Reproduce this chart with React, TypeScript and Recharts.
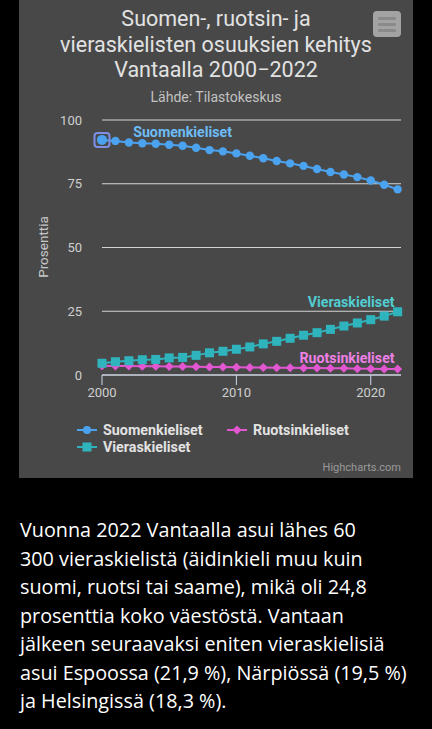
import React from 'react';
import { LineChart, Line, XAxis, YAxis, CartesianGrid, LabelList } from 'recharts';

const years = [2000, 2001, 2002, 2003, 2004, 2005, 2006, 2007, 2008, 2009, 2010, 2011, 2012, 2013, 2014, 2015, 2016, 2017, 2018, 2019, 2020, 2021, 2022];
const suomenkieliset = [92.2, 91.8, 91.2, 90.9, 90.7, 90.3, 89.9, 89.1, 88.2, 87.7, 86.9, 86.0, 85.0, 83.9, 83.0, 82.0, 80.8, 79.6, 78.6, 77.6, 76.3, 74.6, 72.8];
const ruotsinkieliset = [3.6, 3.5, 3.5, 3.4, 3.4, 3.3, 3.3, 3.2, 3.1, 3.1, 3.0, 2.9, 2.9, 2.8, 2.8, 2.7, 2.7, 2.6, 2.6, 2.5, 2.5, 2.4, 2.4];
const vieraskieliset = [4.6, 5.2, 5.6, 6.0, 6.1, 6.7, 6.9, 7.7, 8.7, 9.3, 10.1, 11.0, 12.2, 13.2, 14.4, 15.6, 16.6, 17.9, 19.2, 20.4, 21.7, 23.1, 24.8];
const yTicks = [0, 25, 50, 75, 100];
const xTicks = [2000, 2010, 2020];

const titleLines = ['Suomen-, ruotsin- ja', 'vieraskielisten osuuksien kehitys', 'Vantaalla 2000\u22122022'];
const subtitle = 'Lähde: Tilastokeskus';
const paragraphLines = [
  'Vuonna 2022 Vantaalla asui lähes 60',
  '300 vieraskielistä (äidinkieli muu kuin',
  'suomi, ruotsi tai saame), mikä oli 24,8',
  'prosenttia koko väestöstä. Vantaan',
  'jälkeen seuraavaksi eniten vieraskielisiä',
  'asui Espoossa (21,9 %), Närpiössä (19,5 %)',
  'ja Helsingissä (18,3 %).',
];

const data = years.map((y, i) => ({
  year: y,
  suomi: suomenkieliset[i],
  ruotsi: ruotsinkieliset[i],
  vieras: vieraskieliset[i],
}));

const BLUE = '#4ba3f0';
const PINK = '#e356d2';
const TEAL = '#2fb4bd';
const FONT = 'Roboto, "Noto Sans", sans-serif';

const blueDot = (p: any) => {
  const { cx, cy, index } = p;
  if (index === 0) {
    return (
      <g key={`b${index}`}>
        <rect x={cx - 7.5} y={cy - 7} width={15} height={14} rx={3} fill="none" stroke="#7f8fe6" strokeWidth={2} />
        <circle cx={cx} cy={cy} r={5} fill={BLUE} />
      </g>
    );
  }
  return <circle key={`b${index}`} cx={cx} cy={cy} r={4.2} fill={BLUE} />;
};

const tealDot = (p: any) => {
  const { cx, cy, index } = p;
  return <rect key={`t${index}`} x={cx - 4.5} y={cy - 4.5} width={9} height={9} fill={TEAL} />;
};

const pinkDot = (p: any) => {
  const { cx, cy, index } = p;
  return <path key={`p${index}`} d={`M${cx},${cy - 4.5}L${cx + 4.5},${cy}L${cx},${cy + 4.5}L${cx - 4.5},${cy}Z`} fill={PINK} />;
};

const seriesLabel = (text: string, idx: number, dx: number, dy: number, anchor: string, color: string) => (p: any) => {
  if (p.index !== idx) return null;
  return (
    <text x={p.x + dx} y={p.y + dy} textAnchor={anchor} dominantBaseline="central" fill={color} fontSize={14.2} fontWeight={700} fontFamily={FONT}>
      {text}
    </text>
  );
};

const LegendSymbol = ({ color, kind }: { color: string; kind: string }) => (
  <svg width={20} height={12} style={{ display: 'block' }}>
    <line x1={0} y1={6} x2={20} y2={6} stroke={color} strokeWidth={2} />
    {kind === 'circle' && <circle cx={10} cy={6} r={4} fill={color} />}
    {kind === 'square' && <rect x={5.5} y={1.5} width={9} height={9} fill={color} />}
    {kind === 'diamond' && <path d="M10,1.5L14.5,6L10,10.5L5.5,6Z" fill={color} />}
  </svg>
);

const LegendBox = () => {
  const item = (label: string, color: string, kind: string, left: number, top: number) => (
    <div style={{ position: 'absolute', left, top, display: 'flex', alignItems: 'center', height: 16 }}>
      <LegendSymbol color={color} kind={kind} />
      <span style={{ marginLeft: 6, color: '#e2e2e2', fontSize: 14.3, fontWeight: 700, fontFamily: FONT }}>{label}</span>
    </div>
  );
  return (
    <div style={{ position: 'absolute', left: 0, top: 422, width: 394, height: 40 }}>
      {item('Suomenkieliset', BLUE, 'circle', 58, 0)}
      {item('Ruotsinkieliset', PINK, 'diamond', 208, 0)}
      {item('Vieraskieliset', TEAL, 'square', 58, 17)}
    </div>
  );
};

export default function App() {
  return (
    <div style={{ position: 'absolute', left: 0, top: 0, width: 432, height: 729, background: '#000', overflow: 'hidden' }}>
      <div style={{ position: 'absolute', left: 19, top: 0, width: 394, height: 478, background: '#484848' }}>
        <LineChart width={394} height={478} data={data} margin={{ top: 120, right: 12, bottom: 73, left: 0 }}>
          <CartesianGrid vertical={false} stroke="#d4d4d4" strokeWidth={1} />
          <XAxis
            dataKey="year"
            type="number"
            domain={[2000, 2022.25]}
            ticks={xTicks}
            tickSize={10}
            tickMargin={3}
            stroke="#ccd6eb"
            tick={{ fill: '#cfcfcf', fontSize: 13, fontFamily: FONT }}
            height={30}
          />
          <YAxis
            domain={[0, 100]}
            ticks={yTicks}
            width={83}
            tickSize={0}
            tickMargin={20}
            axisLine={false}
            tickLine={false}
            tick={{ fill: '#cfcfcf', fontSize: 13, fontFamily: FONT }}
          />
          <Line dataKey="suomi" name="Suomenkieliset" stroke={BLUE} strokeWidth={2} dot={blueDot} isAnimationActive={false}>
            <LabelList dataKey="suomi" content={seriesLabel('Suomenkieliset', 6, 0, -14, 'middle', '#6dbdf7')} />
          </Line>
          <Line dataKey="ruotsi" name="Ruotsinkieliset" stroke={PINK} strokeWidth={2} dot={pinkDot} isAnimationActive={false}>
            <LabelList dataKey="ruotsi" content={seriesLabel('Ruotsinkieliset', 22, -3, -11, 'end', '#ee80e6')} />
          </Line>
          <Line dataKey="vieras" name="Vieraskieliset" stroke={TEAL} strokeWidth={2} dot={tealDot} isAnimationActive={false}>
            <LabelList dataKey="vieras" content={seriesLabel('Vieraskieliset', 22, -3, -10, 'end', '#52cdd2')} />
          </Line>
        </LineChart>
        <LegendBox />
        <div style={{ position: 'absolute', left: 0, top: 6, width: 394, textAlign: 'center', color: '#e2e2e2', fontFamily: FONT, fontSize: 21.5, lineHeight: '25.5px' }}>
          {titleLines.map((t) => (
            <div key={t}>{t}</div>
          ))}
        </div>
        <div style={{ position: 'absolute', left: 0, top: 89, width: 394, textAlign: 'center', color: '#c2c2c2', fontFamily: FONT, fontSize: 14 }}>{subtitle}</div>
        <div style={{ position: 'absolute', left: 354, top: 11, width: 28, height: 26, borderRadius: 4, background: '#a3a3a3' }}>
          {[6, 12, 18].map((t) => (
            <div key={t} style={{ position: 'absolute', left: 5, top: t - 0.5, width: 18, height: 3, background: '#8a8a8a', borderRadius: 1 }} />
          ))}
        </div>
        <div style={{ position: 'absolute', left: 24, top: 90, width: 14, height: 0 }}>
          <div style={{ position: 'absolute', left: 0, top: 157, transform: 'translate(-50%, -50%) rotate(-90deg)', color: '#c8c8c8', fontFamily: FONT, fontSize: 13.5, whiteSpace: 'nowrap' }}>Prosenttia</div>
        </div>
        <div style={{ position: 'absolute', right: 12, top: 461, color: '#9a9a9a', fontFamily: FONT, fontSize: 11 }}>Highcharts.com</div>
      </div>
      <div style={{ position: 'absolute', left: 20, top: 516, color: '#fff', fontFamily: '"Open Sans", sans-serif', fontSize: 19.8, lineHeight: '28.5px', whiteSpace: 'nowrap' }}>
        {paragraphLines.map((t) => (
          <div key={t}>{t}</div>
        ))}
      </div>
    </div>
  );
}
